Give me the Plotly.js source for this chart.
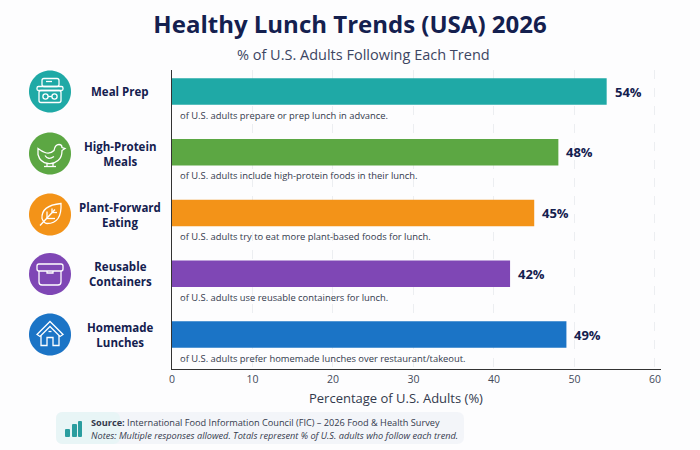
<!DOCTYPE html>
<html>
<head>
<meta charset="utf-8">
<script src="https://cdn.plot.ly/plotly-3.0.1.min.js"></script>
<style>html,body{margin:0;padding:0;background:#fdfdfe}#chart{width:700px;height:450px}</style>
</head>
<body>
<div id="chart"></div>
<script>
const categories = ["Meal Prep", "High-Protein<br>Meals", "Plant-Forward<br>Eating", "Reusable<br>Containers", "Homemade<br>Lunches"];
const percentages = [54, 48, 45, 42, 49];
const valueLabels = ["54%", "48%", "45%", "42%", "49%"];
const barColors = ["#1fa9a6", "#5ca743", "#f39318", "#7f47b5", "#1b74c6"];
const captions = [
  "of U.S. adults prepare or prep lunch in advance.",
  "of U.S. adults include high-protein foods in their lunch.",
  "of U.S. adults try to eat more plant-based foods for lunch.",
  "of U.S. adults use reusable containers for lunch.",
  "of U.S. adults prefer homemade lunches over restaurant/takeout."
];
const xTicks = [0, 10, 20, 30, 40, 50, 60];

const FONT = '"Open Sans", "Noto Sans", sans-serif';
const NAVY = '#14204f';
const L = 172, R = 661, T = 70, B = 369;
const px = X => (X - L) / (R - L);
const py = Y => (B - Y) / (B - T);

// Path written in page pixels relative to (cx,cy), converted to paper coordinates.
function toPaper(d, cx, cy) {
  let i = 0;
  return d.replace(/-?\d+(\.\d+)?/g, n => {
    const v = parseFloat(n);
    return (i++ % 2 === 0 ? px(cx + v) : py(cy + v)).toFixed(5);
  });
}
function pathShape(d, cx, cy, o) {
  return Object.assign({type: 'path', xref: 'paper', yref: 'paper', layer: 'above',
    path: toPaper(d, cx, cy), line: {width: 0}}, o);
}
function circ(x, y, r) {
  const k = r * 0.5523;
  return `M${x-r} ${y} C${x-r} ${y-k} ${x-k} ${y-r} ${x} ${y-r} C${x+k} ${y-r} ${x+r} ${y-k} ${x+r} ${y} C${x+r} ${y+k} ${x+k} ${y+r} ${x} ${y+r} C${x-k} ${y+r} ${x-r} ${y+k} ${x-r} ${y} Z`;
}
function rrect(x0, y0, x1, y1, r) {
  return `M${x0+r} ${y0} L${x1-r} ${y0} Q${x1} ${y0} ${x1} ${y0+r} L${x1} ${y1-r} Q${x1} ${y1} ${x1-r} ${y1} L${x0+r} ${y1} Q${x0} ${y1} ${x0} ${y1-r} L${x0} ${y0+r} Q${x0} ${y0} ${x0+r} ${y0} Z`;
}

const iconCenters = [[50, 91.5], [50, 153.5], [50, 214.5], [50, 274], [50, 334.5]];
const iconPaths = [
  // lunch box
  [rrect(-13, -5, 13, -1, 1.5), rrect(-11, -1, 11, 11, 2), rrect(-8, -13, 9, -5, 2),
   'M-4 -10 L2 -10', circ(-4.5, 5, 2.6), circ(4.5, 5, 2.6), 'M-1.9 5 L1.9 5'],
  // chicken
  ['M-12 -5 Q-8 -2 -5 -1 Q0 1 4 -3 Q5 -9 9 -9 Q12 -9 12 -6 L15 -5 L12 -3 Q12 4 8 7 Q3 11 -2 10 Q-10 9 -12 1 Z',
   'M-5 2 Q-2 7 4 3', 'M-3 10 L-3 13', 'M3 10 L3 13', 'M-6 13 L0 13', 'M0 13 L6 13'],
  // leaf
  ['M-8 4 Q-9 -9 11 -11 Q12 9 -3 9 Q-6 9 -8 4 Z', 'M-10 11 L5 -5', 'M-3 4 L-3 -3', 'M-3 4 L5 4', 'M2 -2 L2 -6', 'M2 -2 L7 -2'],
  // container
  [rrect(-13, -10, 13, -3, 2), 'M-11 -3 L-11 8 Q-11 11 -8 11 L8 11 Q11 11 11 8 L11 -3', 'M-3 -3 L-3 -1 L3 -1 L3 -3'],
  // house
  ['M-13 0 L0 -13 L13 0 L10 2 L0 -8 L-10 2 Z', 'M-9 1 L-9 11 L-3 11 L-3 3 L3 3 L3 11 L9 11 L9 1', 'M-1.5 -3 L1.5 -3']
];

const shapes = [];
iconCenters.forEach(([cx, cy], i) => {
  shapes.push(pathShape(circ(0, 0, 21), cx, cy, {fillcolor: barColors[i]}));
  iconPaths[i].forEach(d => shapes.push(pathShape(d, cx, cy, {
    line: {color: '#ffffff', width: 1.3}, fillcolor: 'rgba(0,0,0,0)'})));
});
// footer panel
shapes.push(pathShape(rrect(56, 412, 464, 444, 7), 0, 0, {fillcolor: '#f3f5f9', layer: 'below'}));
shapes.push(pathShape(rrect(56, 412, 120, 444, 7), 0, 0, {fillcolor: '#e8f5f6', layer: 'below'}));
[[65, 429, 70], [72, 424, 77], [78, 421, 82]].forEach(([x0, y0, x1]) => {
  shapes.push(pathShape(rrect(x0, y0, x1, 437, 1), 0, 0, {fillcolor: '#2a9d9f'}));
});

const annotations = [];
const note = (text, X, Y, size, extra) => annotations.push(Object.assign({
  text, xref: 'paper', yref: 'paper', x: px(X), y: py(Y), showarrow: false,
  xanchor: 'center', yanchor: 'middle', font: {family: FONT, size, color: NAVY}
}, extra));

categories.forEach((c, i) => {
  note('<b>' + c + '</b>', 120, iconCenters[i][1], 11.5, {align: 'center'});
  annotations.push({text: captions[i], xref: 'x', yref: 'y', x: 0, y: c, xshift: 6, yshift: -23.5,
    xanchor: 'left', yanchor: 'middle', showarrow: false,
    font: {family: FONT, size: 9.4, color: '#333a4d'}});
  annotations.push({text: '<b>' + valueLabels[i] + '</b>', xref: 'x', yref: 'y', x: percentages[i], y: c,
    xshift: 6, xanchor: 'left', yanchor: 'middle', showarrow: false,
    font: {family: FONT, size: 13, color: NAVY}});
});
note('% of U.S. Adults Following Each Trend', 363, 54, 14.5, {font: {family: FONT, size: 14.5, color: '#3c4562'}});
note('Percentage of U.S. Adults (%)', 396, 398, 13, {font: {family: FONT, size: 13, color: '#333a4d'}});
note('<b>Source:</b> International Food Information Council (FIC) – 2026 Food & Health Survey', 89, 422, 9.2, {xanchor: 'left', font: {family: FONT, size: 9.2, color: '#333a4d'}});
note('<i>Notes: Multiple responses allowed. Totals represent % of U.S. adults who follow each trend.</i>', 89, 435, 9.2, {xanchor: 'left', font: {family: FONT, size: 9.2, color: '#333a4d'}});

Plotly.newPlot('chart', [{
  type: 'bar', orientation: 'h', x: percentages, y: categories, width: 0.44,
  marker: {color: barColors}, hoverinfo: 'x+y'
}], {
  width: 700, height: 450,
  paper_bgcolor: '#fdfdfe', plot_bgcolor: '#fdfdfe',
  margin: {l: L, r: 700 - R, t: T, b: 450 - B, pad: 0},
  showlegend: false,
  title: {text: '<b>Healthy Lunch Trends (USA) 2026</b>', x: 0.5, xanchor: 'center', y: 0.945, yanchor: 'middle',
    font: {family: FONT, size: 24, color: NAVY}},
  xaxis: {range: [0, 60.75], tickvals: xTicks, showgrid: true, gridcolor: '#eceef1', griddash: 'dash', gridwidth: 1,
    zeroline: false, showline: true, linecolor: '#333333', linewidth: 1, ticks: '',
    tickfont: {family: FONT, size: 10.5, color: '#444a5a'}},
  yaxis: {type: 'category', categoryorder: 'array', categoryarray: categories, range: [4.568, -0.354],
    showgrid: false, zeroline: false, showline: true, linecolor: '#333333', linewidth: 1,
    showticklabels: false, ticks: ''},
  shapes, annotations
}, {displayModeBar: false});
</script>
</body>
</html>
